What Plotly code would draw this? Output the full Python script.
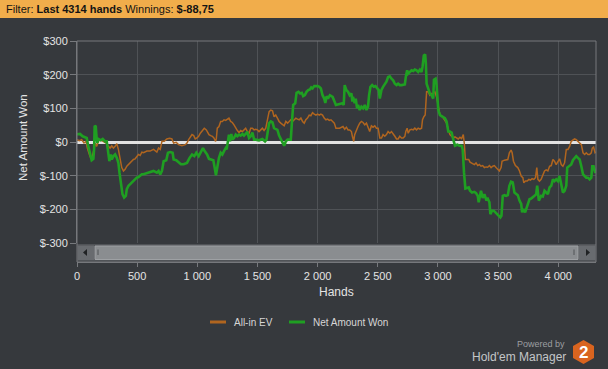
import plotly.graph_objects as go

# ---------------- data ----------------
ev_hands = [0,19,39,58,75,86,103,114,128,142,153,164,178,192,219,242,261,275,289,303,317,331,344,358,372,386,400,414,428,442,456,469,483,497,511,525,539,553,581,608,636,664,678,692,706,725,747,770,789,803,825,845,872,900,914,928,942,956,970,983,997,1011,1025,1039,1058,1075,
            1097,1111,1125,1138,1152,1158,1166,1180,1194,1208,1222,1236,1250,1263,1277,1291,1305,1319,1333,1347,1361,1375,1388,1402,1416,1430,1444,1458,1472,1486,1500,1513,1527,1541,1555,1569,1583,1597,1611,1625,1638,1652,1666,1680,1694,1708,1722,1736,1750,1764,1777,1791,1805,1819,1833,1847,1861,1875,1889,1902,1916,1930,1944,1958,1972,1986,2000,2014,2027,2041,2055,2069,2083,2097,2111,2125,2139,2152,
            2183,2211,2225,2239,2253,2267,2281,2289,2300,2308,2322,2336,2350,2364,2378,2392,2406,2419,2433,2447,2461,2475,2489,2503,2517,2531,2544,2558,2572,2586,2600,2614,2628,2642,2656,2669,2683,2697,2711,2725,2733,2744,2753,2767,2781,2795,2808,2822,2836,2850,2864,2872,2883,2894,2906,2920,2933,2947,2961,2975,2989,3003,3017,3039,3058,3072,3086,3100,3114,3128,3142,3156,3169,3183,3197,3211,3219,3228,
            3256,3267,3289,3303,3317,3331,3344,3358,3372,3386,3400,3414,3428,3442,3456,3469,3483,3497,3511,3525,3533,3553,3567,3581,3594,3608,3617,3628,3644,3664,3678,3692,3706,3714,3728,3742,3756,3769,3783,3797,3811,3822,3831,3844,3858,3872,3886,3900,3914,3928,3942,3956,3969,3983,3997,4011,4025,4039,4053,4067,4081,4095,4108,4122,4136,4150,4164,4178,4192,4206,4220,4233,4247,4261,4275,4283,4294,4306,4314]
ev_values = [7,4,7,-3,2,-18,-37,-47,-42,-22,-3,-13,2,7,2,-3,-13,-18,-11,-18,-13,-5,-22,-52,-76,-86,-81,-72,-67,-60,-54,-52,-50,-42,-37,-40,-30,-32,-27,-27,-22,-30,-18,-22,2,2,9,11,9,-3,-1,-8,-11,-8,-3,7,17,22,19,9,12,17,26,34,41,36,
             22,19,17,12,2,9,41,46,61,61,66,64,68,71,61,58,51,41,34,28,34,31,36,41,31,26,41,41,36,38,36,31,36,41,34,41,66,90,95,93,75,80,71,61,56,51,48,61,56,61,66,61,66,71,68,66,71,61,56,66,71,80,78,87,83,80,83,80,83,80,71,66,68,64,66,61,56,41,
             41,46,38,44,36,36,31,17,2,22,36,46,56,61,58,51,56,46,31,48,44,48,41,41,12,12,22,17,22,31,26,31,22,17,9,9,17,12,12,17,31,41,26,36,38,36,41,36,41,38,41,66,75,80,149,149,139,144,144,149,134,100,80,75,66,56,36,22,17,12,15,12,9,14,10,22,-3,-52,
             -52,-60,-64,-67,-62,-70,-67,-72,-70,-76,-74,-75,-70,-76,-72,-70,-76,-81,-86,-76,-57,-54,-54,-52,-32,-24,-32,-57,-70,-76,-86,-101,-106,-121,-116,-116,-111,-113,-109,-111,-106,-76,-111,-116,-111,-101,-86,-83,-86,-72,-70,-52,-57,-67,-57,-50,-67,-72,-62,-22,-22,-13,2,7,9,7,2,-3,-8,-32,-37,-32,-37,-37,-32,-18,-15,-32,-30]

won_hands = [0,25,47,67,81,94,108,122,136,142,147,156,164,169,178,197,214,233,247,261,269,281,289,303,317,331,344,353,364,378,392,406,414,428,442,456,469,483,497,511,525,539,553,581,608,636,664,678,692,706,720,742,756,775,795,803,825,845,864,886,914,936,956,975,992,1011,1031,1047,1061,1081,
             1097,1119,1133,1144,1155,1166,1180,1194,1208,1222,1236,1244,1252,1263,1272,1283,1291,1305,1319,1333,1347,1361,1375,1388,1402,1416,1430,1444,1458,1472,1486,1513,1541,1563,1575,1586,1597,1611,1625,1638,1652,1666,1680,1694,1708,1722,1736,1750,1764,1777,1786,1797,1814,1825,1841,1855,1869,1880,1894,1908,1922,1936,1947,1958,1972,1986,2000,2014,2027,2041,2055,2064,2075,2086,2102,2125,2139,2152,
             2183,2206,2217,2225,2239,2253,2267,2281,2289,2294,2308,2317,2328,2336,2350,2364,2378,2392,2406,2419,2428,2439,2453,2467,2481,2494,2508,2517,2531,2544,2558,2572,2586,2600,2614,2628,2642,2656,2669,2683,2697,2711,2725,2733,2744,2753,2767,2781,2795,2808,2822,2836,2850,2864,2872,2883,2894,2900,2906,2920,2933,2947,2961,2967,2981,2989,3003,3017,3039,3058,3072,3086,3100,3114,3128,3142,3161,3178,3197,3206,3217,3228,
             3256,3267,3283,3303,3317,3331,3339,3350,3358,3372,3386,3400,3414,3428,3436,3450,3464,3478,3492,3506,3519,3528,3539,3553,3567,3581,3594,3608,3622,3636,3650,3664,3678,3692,3700,3711,3725,3739,3750,3761,3775,3789,3803,3817,3825,3839,3850,3858,3872,3886,3900,3914,3928,3942,3956,3969,3983,3997,4011,4025,4039,4053,4067,4075,4095,4108,4122,4136,4150,4164,4178,4192,4206,4220,4233,4247,4261,4275,4283,4294,4306,4314]
won_values = [23,24,17,14,12,-13,-37,-54,-50,-22,48,46,7,-3,9,5,9,2,2,-32,-57,-37,-52,-42,-37,-47,-62,-91,-120,-155,-165,-160,-140,-130,-125,-120,-115,-110,-106,-104,-101,-96,-96,-93,-91,-86,-91,-86,-96,-86,-57,-54,-32,-30,-32,-52,-54,-59,-66,-66,-62,-47,-37,-42,-32,-42,-30,-18,-27,-37,
              -50,-52,-54,-76,-99,-76,-47,-32,-37,-27,-18,-22,-3,22,2,24,7,12,22,17,22,19,24,19,24,30,12,17,28,7,7,5,9,2,7,38,56,61,58,41,38,36,19,7,-1,-11,2,7,7,7,56,110,115,146,149,144,146,136,139,149,154,156,162,159,166,167,166,164,159,139,129,116,136,129,139,134,124,110,
              113,115,110,169,154,149,139,144,120,134,115,129,100,110,95,105,100,110,95,105,139,164,169,164,166,159,154,129,155,164,173,179,193,195,188,183,173,169,173,169,169,171,171,193,213,203,208,213,211,215,213,208,215,208,223,257,260,232,173,159,144,139,129,185,188,169,95,80,75,71,61,31,31,28,7,-11,-8,-11,-11,-22,-91,-138,
              -135,-145,-150,-148,-152,-160,-179,-155,-145,-166,-155,-170,-168,-179,-214,-204,-204,-209,-214,-219,-224,-219,-160,-158,-160,-158,-130,-118,-120,-150,-155,-158,-174,-184,-209,-199,-209,-194,-179,-170,-168,-165,-160,-155,-130,-174,-164,-160,-162,-145,-150,-155,-135,-130,-111,-116,-111,-116,-101,-130,-150,-145,-130,-76,-70,-67,-54,-47,-42,-47,-52,-72,-96,-101,-106,-106,-111,-106,-72,-72,-89,-88.75]

x_tick_vals = [0, 500, 1000, 1500, 2000, 2500, 3000, 3500, 4000]
x_tick_labels = ["0", "500", "1 000", "1 500", "2 000", "2 500", "3 000", "3 500", "4 000"]
y_tick_vals = [-300, -200, -100, 0, 100, 200, 300]
y_tick_labels = ["$-300", "$-200", "$-100", "$0", "$100", "$200", "$300"]
total_hands = 4314
series_names = ["All-in EV", "Net Amount Won"]

# ---------------- layout helpers ----------------
W_PX, H_PX = 608, 369
L, R, T, B = 77, 596, 41, 262
PW, PH = R - L, B - T
PLOT_BOTTOM = 243  # pixel of the y-range bottom

def fx(x):
    return (x - L) / PW

def fy(y):
    return (B - y) / PH

BG = "#36393d"
GRID = "#4f5256"
ORANGE = "#b0651f"
GREEN = "#1f9f22"
FONT = "Liberation Sans"
TXT = "#e4e4e4"

fig = go.Figure()
fig.add_trace(go.Scatter(x=ev_hands, y=ev_values, mode="lines", name=series_names[0],
                         line=dict(color=ORANGE, width=1.5), showlegend=False))
fig.add_trace(go.Scatter(x=won_hands, y=won_values, mode="lines", name=series_names[1],
                         line=dict(color=GREEN, width=2.6), showlegend=False))

shapes = []
# top filter bar
shapes.append(dict(type="rect", xref="paper", yref="paper", x0=fx(0), x1=fx(W_PX), y0=fy(18), y1=fy(0),
                   fillcolor="#f1ad4b", line=dict(width=0), layer="below"))
# scrollbar
shapes.append(dict(type="rect", xref="paper", yref="paper", x0=fx(77), x1=fx(596), y0=fy(261.5), y1=fy(244),
                   fillcolor="#505357", line=dict(width=0)))
shapes.append(dict(type="rect", xref="paper", yref="paper", x0=fx(78), x1=fx(94), y0=fy(260), y1=fy(245.5),
                   fillcolor="#686b6f", line=dict(width=0)))
shapes.append(dict(type="rect", xref="paper", yref="paper", x0=fx(579), x1=fx(595), y0=fy(260), y1=fy(245.5),
                   fillcolor="#686b6f", line=dict(width=0)))
shapes.append(dict(type="rect", xref="paper", yref="paper", x0=fx(95), x1=fx(578), y0=fy(259.5), y1=fy(246),
                   fillcolor="#8a8d90", line=dict(color="#9ea1a4", width=1)))
shapes.append(dict(type="rect", xref="paper", yref="paper", x0=fx(97), x1=fx(99), y0=fy(255), y1=fy(249.5),
                   fillcolor="#6d7073", line=dict(width=0)))
shapes.append(dict(type="rect", xref="paper", yref="paper", x0=fx(573), x1=fx(575), y0=fy(255), y1=fy(249.5),
                   fillcolor="#6d7073", line=dict(width=0)))
def tri(pts):
    d = "M " + " L ".join(f"{fx(a):.5f},{fy(b):.5f}" for a, b in pts) + " Z"
    return dict(type="path", xref="paper", yref="paper", path=d, fillcolor="#202224", line=dict(width=0))
shapes.append(tri([(83, 252.5), (87, 249), (87, 256)]))
shapes.append(tri([(590, 252.5), (586, 249), (586, 256)]))
# plot border
shapes.append(dict(type="rect", xref="paper", yref="paper", x0=0, x1=1, y0=0, y1=1,
                   line=dict(color="#77797d", width=1), fillcolor="rgba(0,0,0,0)"))
# legend samples
shapes.append(dict(type="line", xref="paper", yref="paper", x0=fx(210), x1=fx(226), y0=fy(322), y1=fy(322),
                   line=dict(color=ORANGE, width=3)))
shapes.append(dict(type="line", xref="paper", yref="paper", x0=fx(289), x1=fx(305), y0=fy(322), y1=fy(322),
                   line=dict(color=GREEN, width=3)))
# logo hexagon
hexpts = [(583.5, 340), (594, 346), (594, 358), (583.5, 364), (573, 358), (573, 346)]
shapes.append(dict(type="path", xref="paper", yref="paper",
                   path="M " + " L ".join(f"{fx(a):.5f},{fy(b):.5f}" for a, b in hexpts) + " Z",
                   fillcolor="#d9641f", line=dict(width=0)))

annotations = [
    dict(text="Filter: <b>Last 4314 hands</b> Winnings: <b>$-88,75</b>", xref="paper", yref="paper",
         x=fx(4), y=fy(9), xanchor="left", yanchor="middle", showarrow=False,
         font=dict(family=FONT, size=11, color="#141414")),
    dict(text="Net Amount Won", xref="paper", yref="paper", x=fx(23), y=fy(138), textangle=-90,
         xanchor="center", yanchor="middle", showarrow=False, font=dict(family=FONT, size=11.5, color=TXT)),
    dict(text="Hands", xref="paper", yref="paper", x=fx(336), y=fy(292), xanchor="center", yanchor="middle",
         showarrow=False, font=dict(family=FONT, size=12, color=TXT)),
    dict(text=series_names[0], xref="paper", yref="paper", x=fx(232), y=fy(322), xanchor="left", yanchor="middle",
         showarrow=False, font=dict(family=FONT, size=10, color="#d6d6d6")),
    dict(text=series_names[1], xref="paper", yref="paper", x=fx(311), y=fy(322), xanchor="left", yanchor="middle",
         showarrow=False, font=dict(family=FONT, size=10, color="#d6d6d6")),
    dict(text="Powered by", xref="paper", yref="paper", x=fx(567), y=fy(344), xanchor="right", yanchor="middle",
         showarrow=False, font=dict(family=FONT, size=9, color="#9c9ea0")),
    dict(text="Hold'em Manager", xref="paper", yref="paper", x=fx(567.5), y=fy(357), xanchor="right", yanchor="middle",
         showarrow=False, font=dict(family=FONT, size=12, color="#c4c6c8")),
    dict(text="<b>2</b>", xref="paper", yref="paper", x=fx(583.5), y=fy(352.5), xanchor="center", yanchor="middle",
         showarrow=False, font=dict(family=FONT, size=17, color="#ffffff")),
]

fig.update_layout(
    width=W_PX, height=H_PX,
    margin=dict(l=L, r=W_PX - R, t=T, b=H_PX - B, pad=0),
    paper_bgcolor=BG, plot_bgcolor=BG,
    font=dict(family=FONT, size=11, color=TXT),
    showlegend=False,
    shapes=shapes, annotations=annotations,
    xaxis=dict(range=[0, total_hands], anchor="free", position=0,
               tickvals=x_tick_vals, ticktext=x_tick_labels,
               ticks="outside", ticklen=4, tickcolor="#77797d",
               showgrid=True, gridcolor=GRID, gridwidth=1, zeroline=False,
               showline=True, linecolor="#77797d",
               tickfont=dict(family=FONT, size=11, color=TXT)),
    yaxis=dict(range=[-300, 300], domain=[fy(PLOT_BOTTOM), 1],
               tickvals=y_tick_vals, ticktext=y_tick_labels,
               ticks="outside", ticklen=6, tickcolor="#77797d",
               showgrid=True, gridcolor=GRID, gridwidth=1,
               zeroline=True, zerolinecolor="#e2e2e2", zerolinewidth=3,
               showline=True, linecolor="#77797d",
               tickfont=dict(family=FONT, size=11, color=TXT)),
)

fig.write_html("out.html", config={"displayModeBar": False},
               post_script="document.body.style.margin='0';document.body.style.padding='0';"
                           "document.documentElement.style.background='#36393d';")
